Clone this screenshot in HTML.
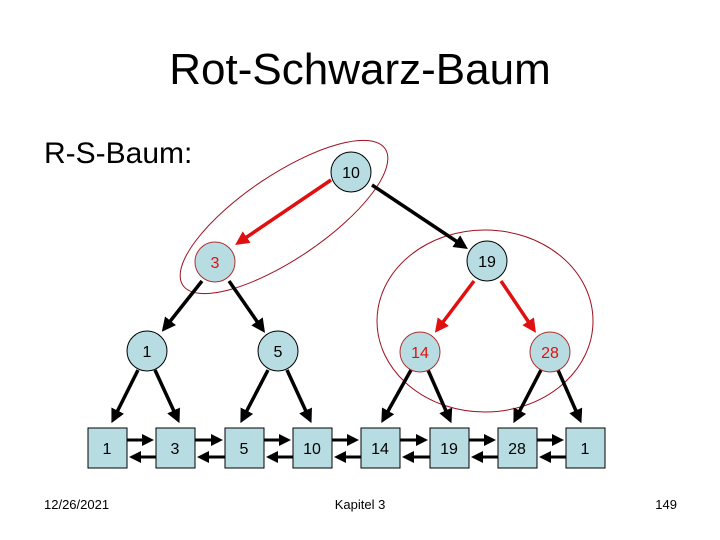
<!DOCTYPE html>
<html><head><style>body{margin:0;background:#fff}svg{display:block}</style></head><body>
<svg width="720" height="540" viewBox="0 0 720 540" xmlns="http://www.w3.org/2000/svg" font-family="Liberation Sans, Arial, sans-serif">
<defs>
<marker id="ab" markerWidth="4" markerHeight="4" refX="3" refY="2" orient="auto"><path d="M0,0 L4,2 L0,4 z" fill="#000"/></marker>
<marker id="ar" markerWidth="4" markerHeight="4" refX="3" refY="2" orient="auto"><path d="M0,0 L4,2 L0,4 z" fill="#e01010"/></marker>
</defs>
<text x="360" y="84" font-size="44" text-anchor="middle">Rot-Schwarz-Baum</text>
<text x="44" y="163" font-size="30">R-S-Baum:</text>
<!-- ellipses -->
<ellipse cx="284" cy="217" rx="122" ry="42" transform="rotate(-34 284 217)" fill="none" stroke="#a01020" stroke-width="1"/>
<ellipse cx="485" cy="321" rx="108" ry="91" fill="none" stroke="#a01020" stroke-width="1"/>
<!-- tree edges -->
<g stroke-width="3.5">
<line x1="331" y1="180" x2="238" y2="243" stroke="#e01010" marker-end="url(#ar)"/>
<line x1="372" y1="185" x2="465" y2="247" stroke="#000" marker-end="url(#ab)"/>
<line x1="202" y1="281" x2="164" y2="329" stroke="#000" marker-end="url(#ab)"/>
<line x1="229" y1="281" x2="263" y2="330" stroke="#000" marker-end="url(#ab)"/>
<line x1="474" y1="281" x2="437" y2="330" stroke="#e01010" marker-end="url(#ar)"/>
<line x1="501" y1="281" x2="534" y2="330" stroke="#e01010" marker-end="url(#ar)"/>
<line x1="138" y1="370" x2="113" y2="420" stroke="#000" marker-end="url(#ab)"/>
<line x1="155" y1="370" x2="178" y2="420" stroke="#000" marker-end="url(#ab)"/>
<line x1="268" y1="370" x2="242" y2="420" stroke="#000" marker-end="url(#ab)"/>
<line x1="287" y1="370" x2="310" y2="420" stroke="#000" marker-end="url(#ab)"/>
<line x1="411" y1="370" x2="383" y2="420" stroke="#000" marker-end="url(#ab)"/>
<line x1="428" y1="370" x2="450" y2="420" stroke="#000" marker-end="url(#ab)"/>
<line x1="541" y1="370" x2="515" y2="420" stroke="#000" marker-end="url(#ab)"/>
<line x1="558" y1="370" x2="580" y2="420" stroke="#000" marker-end="url(#ab)"/>
</g>
<!-- list arrows -->
<g stroke="#000" stroke-width="3">
<line x1="127" y1="440" x2="151" y2="440" marker-end="url(#ab)"/><line x1="156" y1="457" x2="132" y2="457" marker-end="url(#ab)"/>
<line x1="195" y1="440" x2="220" y2="440" marker-end="url(#ab)"/><line x1="225" y1="457" x2="200" y2="457" marker-end="url(#ab)"/>
<line x1="264" y1="440" x2="288" y2="440" marker-end="url(#ab)"/><line x1="293" y1="457" x2="269" y2="457" marker-end="url(#ab)"/>
<line x1="332" y1="440" x2="356" y2="440" marker-end="url(#ab)"/><line x1="361" y1="457" x2="337" y2="457" marker-end="url(#ab)"/>
<line x1="400" y1="440" x2="425" y2="440" marker-end="url(#ab)"/><line x1="430" y1="457" x2="405" y2="457" marker-end="url(#ab)"/>
<line x1="469" y1="440" x2="493" y2="440" marker-end="url(#ab)"/><line x1="498" y1="457" x2="474" y2="457" marker-end="url(#ab)"/>
<line x1="537" y1="440" x2="561" y2="440" marker-end="url(#ab)"/><line x1="566" y1="457" x2="542" y2="457" marker-end="url(#ab)"/>
</g>
<!-- nodes -->
<g fill="#b7dde2" stroke="#000" stroke-width="1">
<circle cx="351" cy="172" r="20"/><circle cx="487" cy="261" r="20"/>
<circle cx="147" cy="351" r="20"/><circle cx="278" cy="351" r="20"/>
</g>
<g fill="#b7dde2" stroke="#b03030" stroke-width="1">
<circle cx="215" cy="262" r="20"/><circle cx="420" cy="352" r="20"/><circle cx="550" cy="352" r="20"/>
</g>
<g fill="#b7dde2" stroke="#000" stroke-width="1">
<rect x="88" y="428" width="39" height="40"/><rect x="156" y="428" width="39" height="40"/>
<rect x="225" y="428" width="39" height="40"/><rect x="293" y="428" width="39" height="40"/>
<rect x="361" y="428" width="39" height="40"/><rect x="430" y="428" width="39" height="40"/>
<rect x="498" y="428" width="39" height="40"/><rect x="566" y="428" width="39" height="40"/>
</g>
<g font-size="16" text-anchor="middle">
<text x="351" y="178">10</text><text x="487" y="267">19</text>
<text x="147" y="357">1</text><text x="278" y="357">5</text>
<g fill="#e01010"><text x="215" y="268">3</text><text x="420" y="358">14</text><text x="550" y="358">28</text></g>
<text x="107" y="454">1</text><text x="175" y="454">3</text><text x="244" y="454">5</text><text x="312" y="454">10</text>
<text x="380" y="454">14</text><text x="449" y="454">19</text><text x="517" y="454">28</text><text x="585" y="454">1</text>
</g>
<text x="44" y="509" font-size="13">12/26/2021</text>
<text x="360" y="509" font-size="13" text-anchor="middle">Kapitel 3</text>
<text x="677" y="509" font-size="13" text-anchor="end">149</text>
</svg>
</body></html>
